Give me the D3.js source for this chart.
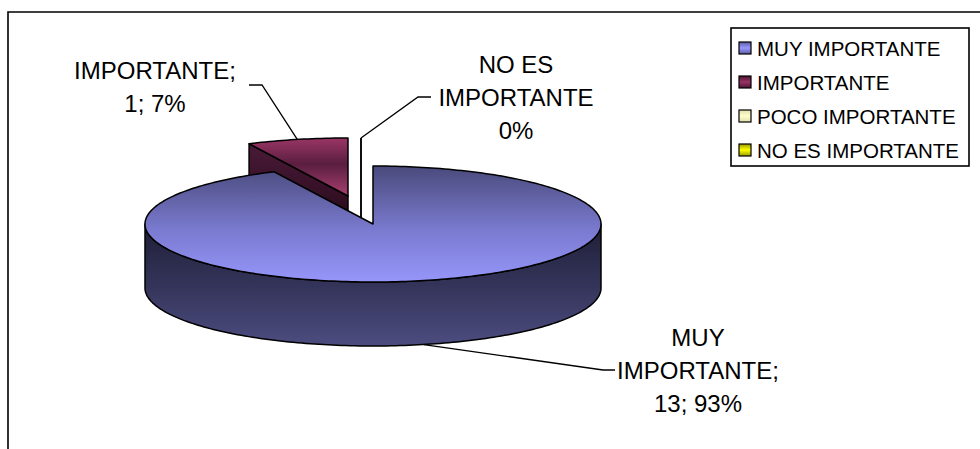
<!DOCTYPE html>
<html>
<head>
<meta charset="utf-8">
<script src="https://cdn.jsdelivr.net/npm/d3@7"></script>
<style>
  html, body { margin: 0; padding: 0; background: #fff; }
  svg { display: block; font-family: "Liberation Sans", Arial, sans-serif; }
</style>
</head>
<body>
<svg id="chart" width="980" height="449"></svg>
<script>
// Survey answers: how important it is
const categories = ["MUY IMPORTANTE", "IMPORTANTE", "POCO IMPORTANTE", "NO ES IMPORTANTE"];
const counts = [13, 1, 0, 0];
// Label text per slice (null = no label); value line built from counts
const labelNames = [["MUY", "IMPORTANTE;"], ["IMPORTANTE;"], null, ["NO ES", "IMPORTANTE"]];
const labelShowCount = [true, true, false, false];

// Styling
const W = 980, H = 449;
const cx = 373, cy = 224, rx = 228, ry = 58, depth = 64;
// exploded offset of each slice (projected pixels)
const explode = [[0, 0], [-25, -28], [-12, -28], [-12, -28]];
// label layout: centre x, first baseline, line step, leader elbow & end, anchor on bottom edge?
const labelLayout = [
  { x: 698, y: 346, step: 33, elbow: [603, 370], end: [615, 370], bottom: true },
  { x: 155, y: 79, step: 33, elbow: [262, 85], end: [249, 85], bottom: false },
  null,
  { x: 516, y: 73, step: 33, elbow: [418, 97], end: [431, 97], bottom: false }
];

const svg = d3.select("#chart");
const defs = svg.append("defs");

function lin(id, stops, x1 = 0, y1 = 0, x2 = 0, y2 = 1) {
  const g = defs.append("linearGradient").attr("id", id)
    .attr("x1", x1).attr("y1", y1).attr("x2", x2).attr("y2", y2);
  stops.forEach(([o, c]) => g.append("stop").attr("offset", o).attr("stop-color", c));
}
lin("topMain", [[0, "#4a4a7c"], [0.55, "#7a7ad0"], [1, "#9696fa"]]);
lin("sideMain", [[0, "#1e1e36"], [0.5, "#34345a"], [1, "#4c4c80"]]);
lin("topImp", [[0, "#9a3566"], [0.45, "#5a1e40"], [1, "#a8406f"]]);
lin("sideImp", [[0, "#4a1a38"], [0.6, "#2c0c1e"], [1, "#12020a"]]);
lin("sw0", [[0, "#5c5ca0"], [0.5, "#9999ff"], [1, "#5c5ca0"]]);
lin("sw1", [[0, "#4a1530"], [0.5, "#993366"], [1, "#4a1530"]]);
lin("sw2", [[0, "#e0e0b0"], [0.5, "#ffffcc"], [1, "#e0e0b0"]]);
lin("sw3", [[0, "#9a9a00"], [0.5, "#ffff00"], [1, "#9a9a00"]]);

// outer chart frame
svg.append("path").attr("d", `M8,${H}V12H${W}`)
  .attr("fill", "none").attr("stroke", "#000").attr("stroke-width", 1.6);

const total = d3.sum(counts);
const arcs = d3.pie().sort(null).value(d => d).startAngle(0).endAngle(2 * Math.PI)(counts);

// project angle a (clockwise from 12 o'clock) onto the tilted ellipse
function P(a, r, off, z) {
  return [cx + off[0] + rx * r * Math.sin(a), cy + off[1] - ry * r * Math.cos(a) + z];
}
function arcPts(a0, a1, off, z) {
  const n = Math.max(2, Math.ceil(Math.abs(a1 - a0) / 0.02));
  return d3.range(n + 1).map(i => P(a0 + (a1 - a0) * i / n, 1, off, z));
}
const line = d3.line();
const g = svg.append("g");

function drawSlice(i) {
  const d = arcs[i], off = explode[i];
  const a0 = d.startAngle, a1 = d.endAngle;
  if (a1 - a0 <= 0) {
    // empty slice: its edge seen as a single line
    g.append("path").attr("d", line([P(a0, 1, off, 0), P(a0, 0, off, 0), P(a0, 0, off, depth)]))
      .attr("fill", "none").attr("stroke", "#000").attr("stroke-width", 1.5);
    return;
  }
  const side = i === 0 ? "url(#sideMain)" : "url(#sideImp)";
  const top = i === 0 ? "url(#topMain)" : "url(#topImp)";
  // cut face at the start angle when it faces the viewer
  if (Math.cos(a0) > 0 && Math.sin(a0) < 0) {
    g.append("path").attr("d", line([P(a0, 1, off, 0), P(a0, 0, off, 0), P(a0, 0, off, depth), P(a0, 1, off, depth)]) + "Z")
      .attr("fill", side).attr("stroke", "#000").attr("stroke-width", 1.5).attr("stroke-linejoin", "round");
  }
  // outer rim, front half only
  const s0 = Math.max(a0, Math.PI / 2), s1 = Math.min(a1, 3 * Math.PI / 2);
  if (s1 > s0) {
    const pts = arcPts(s0, s1, off, 0).concat(arcPts(s1, s0, off, depth));
    g.append("path").attr("d", line(pts) + "Z")
      .attr("fill", side).attr("stroke", "#000").attr("stroke-width", 1.5).attr("stroke-linejoin", "round");
  }
  // top face
  const tp = [P(0, 0, off, 0)].concat(arcPts(a0, a1, off, 0));
  g.append("path").attr("d", line(tp) + "Z")
    .attr("fill", top).attr("stroke", "#000").attr("stroke-width", 1.5).attr("stroke-linejoin", "round");
}
// back slices first, main slice last
[1, 2, 3, 0].forEach(drawSlice);

// data labels with leader lines
arcs.forEach((d, i) => {
  const L = labelLayout[i];
  if (!L || !labelNames[i]) return;
  const mid = (d.startAngle + d.endAngle) / 2;
  const anchor = P(mid, 1, explode[i], L.bottom ? depth : 0);
  svg.append("path").attr("d", line([anchor, L.elbow, L.end]))
    .attr("fill", "none").attr("stroke", "#000").attr("stroke-width", 1.3);
  const pct = Math.round(d.value / total * 100);
  const lines = labelNames[i].concat([labelShowCount[i] ? `${d.value}; ${pct}%` : `${pct}%`]);
  const t = svg.append("text").attr("text-anchor", "middle").attr("font-size", 24).attr("fill", "#000");
  lines.forEach((s, k) => t.append("tspan").attr("x", L.x).attr("y", L.y + k * L.step).text(s));
});

// legend
const leg = svg.append("g");
leg.append("rect").attr("x", 731).attr("y", 28).attr("width", 238).attr("height", 138)
  .attr("fill", "#fff").attr("stroke", "#000").attr("stroke-width", 1.6);
categories.forEach((c, i) => {
  const yc = 48 + i * 34;
  leg.append("rect").attr("x", 739).attr("y", yc - 6).attr("width", 12).attr("height", 12)
    .attr("fill", `url(#sw${i})`).attr("stroke", "#000").attr("stroke-width", 1.2);
  leg.append("text").attr("x", 757).attr("y", yc + 8).attr("font-size", 20.5).attr("fill", "#000").text(c);
});
</script>
</body>
</html>
